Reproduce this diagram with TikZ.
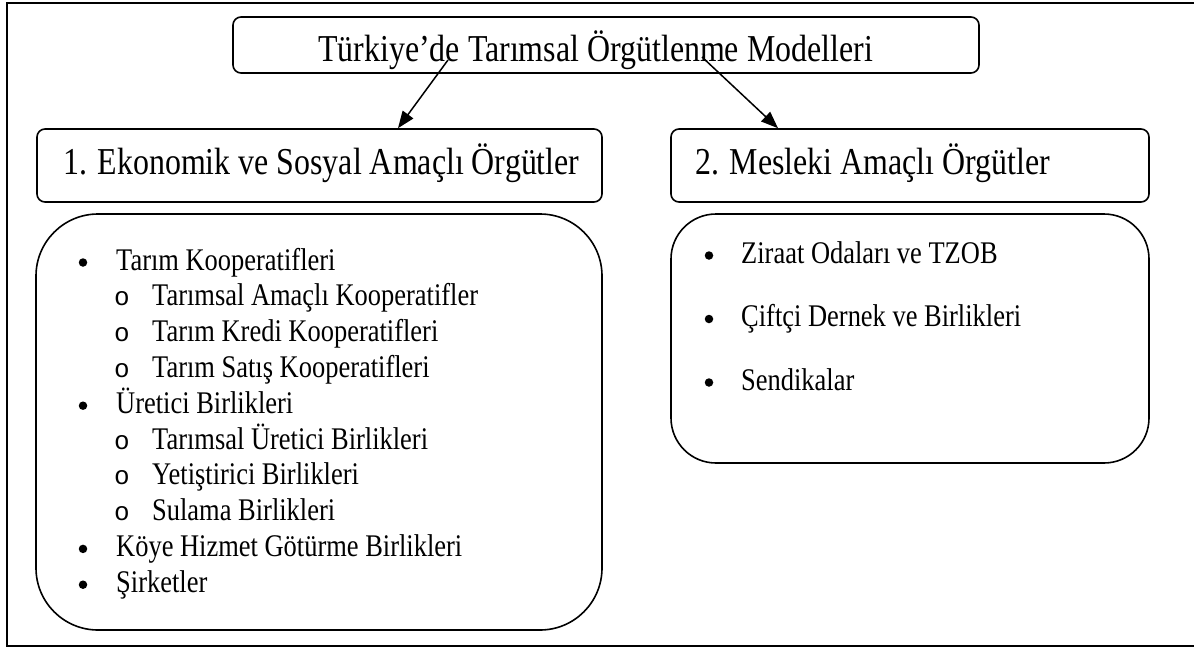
\documentclass[tikz,border=0pt]{standalone}
\usepackage{fontspec}
\setmainfont{Liberation Serif}[FakeStretch=0.84]
\newfontfamily\halka{Liberation Mono}
\usetikzlibrary{arrows.meta}

\begin{document}
\begin{tikzpicture}[x=1pt,y=-1pt,
                kutu/.style={draw,line width=1.6pt,rounded corners=8pt,inner sep=0pt},
                liste/.style={draw,line width=1.6pt,inner sep=0pt},
                ust/.style={font=\fontsize{38}{44}\selectfont,anchor=base west,inner sep=0pt},
                madde/.style={font=\fontsize{31.5}{36}\selectfont,anchor=base west,inner sep=0pt},
                nokta/.style={circle,fill,inner sep=0pt,minimum size=8.5pt},
                yuvarlak/.style={font=\halka\fontsize{26}{30}\selectfont,anchor=base,inner sep=0pt},
                ok/.style={line width=1.5pt,-{Triangle[length=17pt,width=13pt]}}]
                \useasboundingbox (0,0) rectangle (1194,648);
                % dis cerceve
                \draw[line width=2pt] (1200,3) -- (7,3) -- (7,646) -- (1200,646);
                % baslik
                \node[kutu,minimum width=746pt,minimum height=56pt] (baslik) at (606,45) {};
                \node[ust] (basliktxt) at (318,61) {Türkiye’de Tarımsal Örgütlenme Modelleri};
                % iki grup
                \node[kutu,minimum width=565pt,minimum height=73pt] (ekonomik) at (319.5,165.5) {};
                \node[ust] (ekonomiktxt) at (63,174) {1. Ekonomik ve Sosyal Amaçlı Örgütler};
                \node[kutu,minimum width=478pt,minimum height=73pt] (mesleki) at (910,165.5) {};
                \node[ust] (meslekitxt) at (695,174) {2. Mesleki Amaçlı Örgütler};
                \coordinate (c1) at (448,60);
                \coordinate (c2) at (702,57);
                \draw[ok] (c1) -- ([xshift=78.5pt]ekonomik.north);
                \draw[ok] (c2) -- ([xshift=-132pt]mesleki.north);
                % listeler
                \node[liste,rounded corners=62pt,minimum width=566pt,minimum height=416pt] (ekliste) at (319,422) {};
                \node[liste,rounded corners=45pt,minimum width=478pt,minimum height=249pt] (mesliste) at (910,338.5) {};
                \foreach \i/\t in {0/Tarım Kooperatifleri,4/Üretici Birlikleri,8/Köye Hizmet Götürme Birlikleri,9/Şirketler}{
                    \node[nokta] (mb\i) at (83,262.5+35.8*\i) {};
                    \node[madde] (m\i) at (116,270+35.8*\i) {\t};
                }
                \foreach \i/\t in {1/Tarımsal Amaçlı Kooperatifler,2/Tarım Kredi Kooperatifleri,3/Tarım Satış Kooperatifleri,5/Tarımsal Üretici Birlikleri,6/Yetiştirici Birlikleri,7/Sulama Birlikleri}{
                    \node[yuvarlak] (sb\i) at (122,270+35.8*\i) {o};
                    \node[madde] (s\i) at (152,270+35.8*\i) {\t};
                }
                \foreach \i/\t in {0/Ziraat Odaları ve TZOB,1/Çiftçi Dernek ve Birlikleri,2/Sendikalar}{
                    \node[nokta] (rb\i) at (709,255.5+63.5*\i) {};
                    \node[madde] (r\i) at (741,263+63.5*\i) {\t};
                }
            \end{tikzpicture}
\end{document}
